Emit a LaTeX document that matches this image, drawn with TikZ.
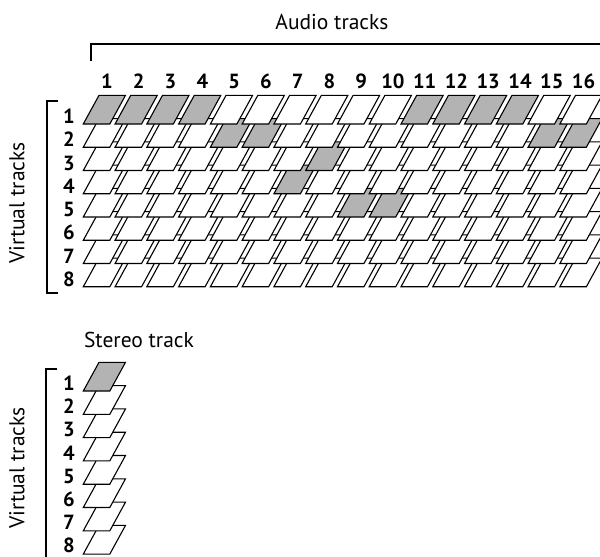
\documentclass[tikz,border=0pt]{standalone}
\usepackage{fontspec}
\setmainfont{PT Sans}
\definecolor{cellgrey}{RGB}{179,179,179}
\tikzset{
  cellbox/.style={draw=black, line width=1.1pt, line join=miter, fill=white},
  greycell/.style={cellbox, fill=cellgrey},
  bracket/.style={draw=black, line width=1.3pt},
  numlbl/.style={font=\fontsize{20.5}{20.5}\selectfont\bfseries, inner sep=0pt, anchor=base},
  titlelbl/.style={font=\fontsize{21.5}{21.5}\selectfont, inner sep=0pt},
}
\newcommand{\trackcell}[3]{% bottom-left x, bottom-left y, style
  \path[#3] (#1,#2) -- ++(26.5,0) -- ++(15.7,-28.7) -- ++(-26.5,0) -- cycle;
}
\begin{document}
\begin{tikzpicture}[x=1pt,y=-1pt]
\useasboundingbox (0,0) rectangle (600,557);
\begin{scope}
\clip (0,0) rectangle (600,557);
% ---- main grid: rows drawn from 8 (back) to 1 (front)
\foreach \r in {8,7,...,1}{
  \foreach \c in {1,...,16}{
    \pgfmathsetmacro{\bx}{83.3+31.77*(\c-1)}
    \pgfmathsetmacro{\by}{124+23.25*(\r-1)}
    \def\st{cellbox}
    \ifnum\r=1 \ifnum\c<5 \def\st{greycell}\fi \ifnum\c>10 \ifnum\c<15 \def\st{greycell}\fi\fi \fi
    \ifnum\r=2 \ifnum\c=5 \def\st{greycell}\fi \ifnum\c=6 \def\st{greycell}\fi \ifnum\c>14 \def\st{greycell}\fi \fi
    \ifnum\r=3 \ifnum\c=8 \def\st{greycell}\fi \fi
    \ifnum\r=4 \ifnum\c=7 \def\st{greycell}\fi \fi
    \ifnum\r=5 \ifnum\c=9 \def\st{greycell}\fi \ifnum\c=10 \def\st{greycell}\fi \fi
    \trackcell{\bx}{\by}{\st}
  }
}
% ---- stereo track
\foreach \r in {8,7,...,1}{
  \pgfmathsetmacro{\by}{391+23.3*(\r-1)}
  \def\st{cellbox}
  \ifnum\r=1 \def\st{greycell}\fi
  \trackcell{83.3}{\by}{\st}
}
% ---- brackets
\draw[bracket] (91,61) -- (91,44) -- (601,44);
\draw[bracket] (58,101) -- (47,101) -- (47,293) -- (58,293);
\draw[bracket] (57,369) -- (46,369) -- (46,560);
\end{scope}
% ---- labels
\node[titlelbl] (audio) at (332,22) {Audio tracks};
\node[titlelbl, rotate=90] (virt1) at (17,203) {Virtual tracks};
\node[titlelbl] (stereo) at (139,340) {Stereo track};
\node[titlelbl, rotate=90] (virt2) at (17,468) {Virtual tracks};
\foreach \c in {1,...,16}{
  \pgfmathsetmacro{\nx}{107+31.77*(\c-1)}
  \node[numlbl] (col\c) at (\nx,88.3) {\c};
}
\foreach \r in {1,...,8}{
  \pgfmathsetmacro{\ny}{123.5+23.25*(\r-1)}
  \node[numlbl] (row\r) at (69,\ny) {\r};
  \pgfmathsetmacro{\sy}{390.5+23.2*(\r-1)}
  \node[numlbl] (srow\r) at (69,\sy) {\r};
}
\end{tikzpicture}
\end{document}
